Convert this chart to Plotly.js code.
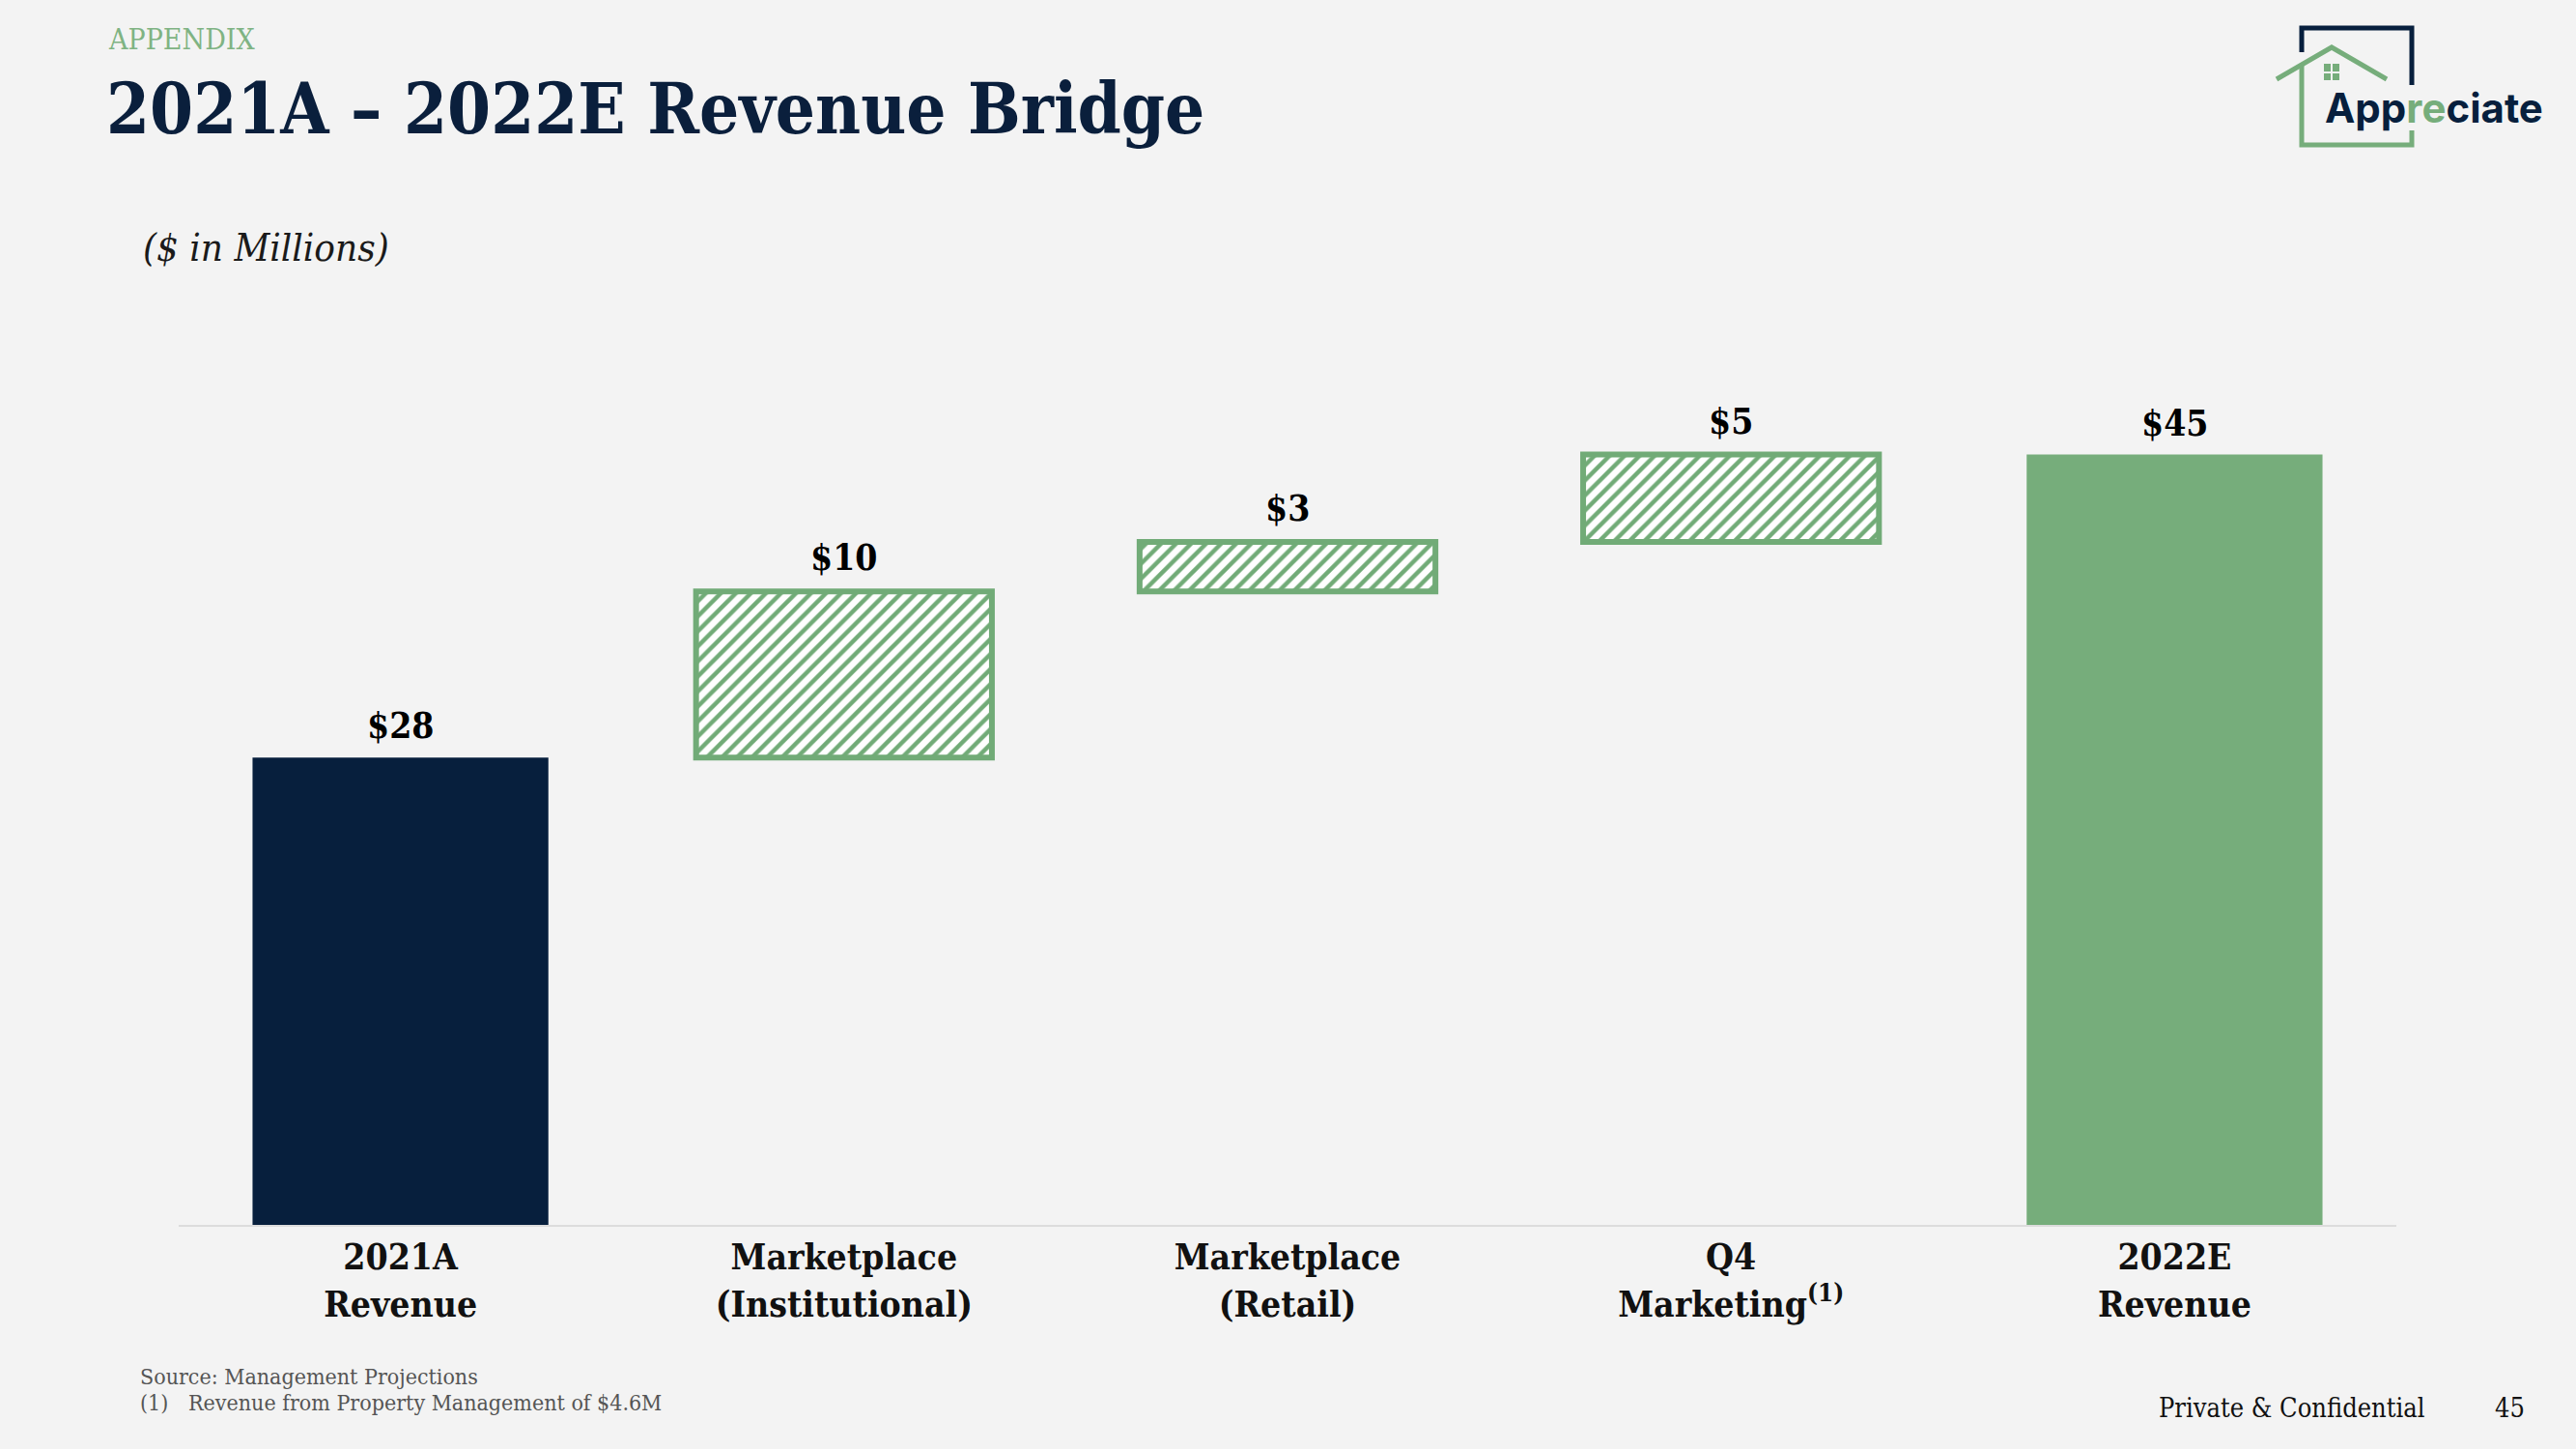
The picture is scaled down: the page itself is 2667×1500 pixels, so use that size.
<!DOCTYPE html>
<html>
<head>
<meta charset="utf-8">
<script src="https://cdn.plot.ly/plotly-3.0.1.min.js"></script>
<style>
  html, body { margin: 0; padding: 0; background: #f3f3f3; }
  #chart { width: 2667px; height: 1500px; }
</style>
</head>
<body>
<div id="chart"></div>
<script>
// ---- data ----
const categories = ['2021A<br>Revenue', 'Marketplace<br>(Institutional)', 'Marketplace<br>(Retail)', 'Q4<br>Marketing<sup>(1)</sup>', '2022E<br>Revenue'];
const startValue = 27.3;          // 2021A revenue
const stepValues = [9.7, 2.9, 5.1]; // institutional, retail, Q4 marketing
const endValue = 45.0;            // 2022E revenue
const valueLabels = ['$28', '$10', '$3', '$5', '$45'];

// ---- styling ----
const NAVY = '#071f3d';
const GREEN = '#76ad7b';
const SERIF = "'Roboto Slab', 'DejaVu Serif Condensed', 'DejaVu Serif', serif";

// plot area in pixels
const PL = 185, PR = 2481, PT = 382, PB = 1268;
const X = px => (px - PL) / (PR - PL);
const Y = py => (PB - py) / (PB - PT);

// bases for the step bars
const stepCats = categories.slice(1, 4);
const stepBases = [];
let run = startValue;
stepValues.forEach(v => { stepBases.push(run); run += v; });

const totals = {
  type: 'bar',
  x: [categories[0], categories[4]],
  y: [startValue, endValue],
  width: 0.667,
  marker: { color: [NAVY, GREEN], line: { width: 0 } },
  hoverinfo: 'skip'
};
const steps = {
  type: 'bar',
  x: stepCats,
  y: stepValues,
  base: stepBases,
  width: 0.667,
  marker: {
    color: '#ffffff',
    line: { color: '#71ab77', width: 6 },
    pattern: { shape: '/', fgcolor: '#71ab77', bgcolor: '#ffffff', size: 11, solidity: 0.4 }
  },
  hoverinfo: 'skip'
};

const tops = [startValue, ...stepBases.map((b, i) => b + stepValues[i]), endValue];
const annotations = categories.map((c, i) => ({
  x: c, y: tops[i], xref: 'x', yref: 'y',
  text: valueLabels[i], showarrow: false, yanchor: 'bottom',
  yshift: (i >= 1 && i <= 3) ? 11 : 9,
  font: { family: SERIF, size: 37, color: '#000000', weight: 700 }
}));

function txt(text, px, py, size, color, extra) {
  return Object.assign({
    text: text, xref: 'paper', yref: 'paper', x: X(px), y: Y(py),
    xanchor: 'left', yanchor: 'middle', showarrow: false,
    font: { family: SERIF, size: size, color: color }
  }, extra || {});
}

annotations.push(
  txt('APPENDIX', 110, 40, 30, '#7fb383'),
  txt('2021A – 2022E Revenue Bridge', 108, 112, 72, '#0a1f3c', { font: { family: SERIF, size: 72, color: '#0a1f3c', weight: 700 } }),
  txt('<i>($ in Millions)</i>', 146, 256, 40, '#1a1a1a'),
  txt('Source: Management Projections', 143, 1425, 23, '#555555'),
  txt('(1)', 143, 1452, 23, '#555555'),
  txt('Revenue from Property Management of $4.6M', 193, 1452, 23, '#555555'),
  txt('Private & Confidential', 2233, 1457, 27, '#111111'),
  txt('45', 2581, 1457, 27, '#111111'),
  {
    text: 'App<span style="color:#76ad7b">re</span>ciate', xref: 'paper', yref: 'paper',
    x: X(2405), y: Y(111), xanchor: 'left', yanchor: 'middle', showarrow: false,
    font: { family: 'Inter, "Open Sans", sans-serif', size: 42, color: NAVY, weight: 700 }
  }
);

function path(pts) {
  return pts.map((p, i) => (i ? 'L' : 'M') + X(p[0]).toFixed(5) + ',' + Y(p[1]).toFixed(5)).join(' ');
}
const shapes = [
  { type: 'path', xref: 'paper', yref: 'paper', path: path([[2383, 54], [2383, 29], [2497, 29], [2497, 88]]), line: { color: NAVY, width: 5 } },
  { type: 'path', xref: 'paper', yref: 'paper', path: path([[2357, 82], [2414, 49], [2471, 82]]), line: { color: GREEN, width: 5 } },
  { type: 'path', xref: 'paper', yref: 'paper', path: path([[2383, 68], [2383, 150], [2497, 150], [2497, 135]]), line: { color: GREEN, width: 5 } },
  { type: 'rect', xref: 'paper', yref: 'paper', x0: X(2406), x1: X(2422), y0: Y(83), y1: Y(66), fillcolor: GREEN, line: { width: 0 } },
  { type: 'path', xref: 'paper', yref: 'paper', path: path([[2414, 65], [2414, 84]]), line: { color: '#f3f3f3', width: 2 } },
  { type: 'path', xref: 'paper', yref: 'paper', path: path([[2405, 75], [2423, 75]]), line: { color: '#f3f3f3', width: 2 } }
];

const layout = {
  width: 2667, height: 1500,
  paper_bgcolor: '#f3f3f3', plot_bgcolor: '#f3f3f3',
  margin: { l: PL, r: 2667 - PR, t: PT, b: 1500 - PB, pad: 0 },
  barmode: 'overlay',
  showlegend: false,
  xaxis: {
    type: 'category', categoryorder: 'array', categoryarray: categories,
    range: [-0.5, 4.5], fixedrange: true,
    showline: true, linecolor: '#dcdcdc', linewidth: 2,
    showgrid: false, zeroline: false,
    ticks: '',
    tickfont: { family: SERIF, size: 37, color: '#111111', weight: 700 }
  },
  yaxis: { range: [0, 50], visible: false, showgrid: false, zeroline: false, fixedrange: true },
  annotations: annotations,
  shapes: shapes
};

Plotly.newPlot('chart', [totals, steps], layout, { staticPlot: true, displayModeBar: false });
</script>
</body>
</html>
